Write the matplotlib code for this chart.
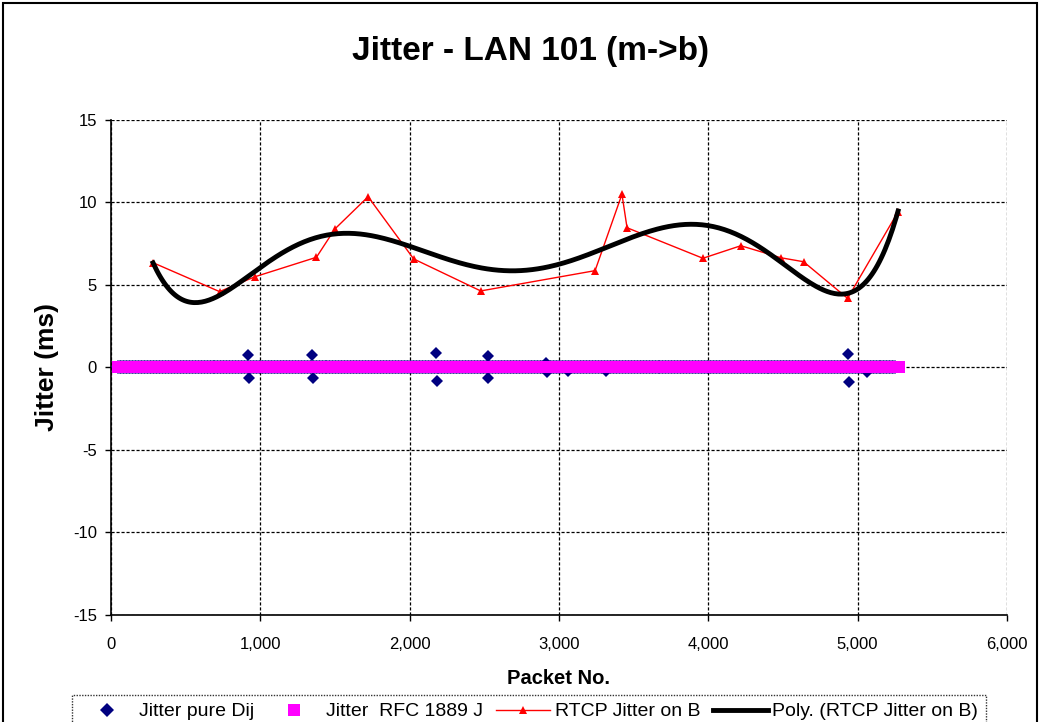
import numpy as np
import matplotlib
matplotlib.use('Agg')
import matplotlib.pyplot as plt
from matplotlib.ticker import FuncFormatter, MultipleLocator
from matplotlib.patches import Rectangle

plt.rcParams['font.family'] = ['Liberation Sans', 'DejaVu Sans']
plt.rcParams['axes.unicode_minus'] = False

# RTCP jitter reports (packet no., ms)
rtcp_packet = [282, 727, 964, 1376, 1500, 1722, 2027, 2476, 3242, 3422, 3456,
               3964, 4218, 4487, 4638, 4933, 5271]
rtcp_jitter = [6.35, 4.6, 5.5, 6.68, 8.4, 10.35, 6.58, 4.64, 5.87, 10.5, 8.47,
               6.62, 7.38, 6.65, 6.41, 4.19, 9.44]

# per-packet jitter: sits at 0 ms except a few spikes
first_packet, last_packet, packet_step = 50, 5280, 10
dij_last_packet = 5250
rfc_gap = (3245, 3300)          # missing RFC 1889 values
spike_packet = [918, 922, 1345, 1350, 2176, 2180, 2522, 2527, 2913, 2918,
                3060, 3313, 4936, 4940, 5060]
spike_dij = [0.75, -0.65, 0.75, -0.65, 0.85, -0.8, 0.7, -0.65, 0.3, -0.25,
             -0.2, -0.2, 0.8, -0.88, -0.3]

packet_no = np.arange(first_packet, last_packet + 1, packet_step)
dij_x = packet_no[packet_no <= dij_last_packet]
dij_y = np.zeros(len(dij_x))

rfc_x = packet_no[(packet_no < rfc_gap[0]) | (packet_no > rfc_gap[1])]
rfc_y = np.zeros(len(rfc_x))

# 6th order polynomial trendline of the RTCP values
coef = np.polyfit(rtcp_packet, rtcp_jitter, 6)
poly_x = np.linspace(rtcp_packet[0], rtcp_packet[-1], 400)
poly_y = np.polyval(coef, poly_x)

fig = plt.figure(figsize=(10.4, 7.22), dpi=100)
ax = fig.add_axes([0.1067, 0.1482, 0.8615, 0.6856])

ax.plot(dij_x, dij_y, 'D', color='#000080', ms=7.3, mew=0, label='Jitter pure Dij', zorder=3)
ax.plot(spike_packet, spike_dij, 'D', color='#000080', ms=5.8, mew=0, zorder=3)
ax.plot(rfc_x, rfc_y, 's', color='#FF00FF', ms=8.8, mew=0, label='Jitter  RFC 1889 J', zorder=4)
ax.plot(rtcp_packet, rtcp_jitter, '-', color='red', lw=1, marker='^', ms=5.5, mew=0,
        label='RTCP Jitter on B', zorder=5)
ax.plot(poly_x, poly_y, '-', color='black', lw=3.5, label='Poly. (RTCP Jitter on B)', zorder=6)

ax.set_xlim(0, 6000)
ax.set_ylim(-15, 15)
ax.xaxis.set_major_locator(MultipleLocator(1000))
ax.yaxis.set_major_locator(MultipleLocator(5))
ax.xaxis.set_major_formatter(FuncFormatter(lambda v, p: '{:,.0f}'.format(v)))
ax.tick_params(direction='out', length=4, width=1, labelsize=12, pad=12)
ax.tick_params(axis='y', pad=6)
ax.grid(True, color='black', linestyle=(0, (2.5, 1.5)), linewidth=0.9)
ax.set_axisbelow(True)
for s in ['top', 'right']:
    ax.spines[s].set_visible(False)
for s in ['left', 'bottom']:
    ax.spines[s].set_linewidth(1.2)

fig.text(0.51, 0.928, 'Jitter - LAN 101 (m->b)', fontsize=24, fontweight='bold',
         ha='center', va='center')
ax.set_xlabel('Packet No.', fontsize=14.5, fontweight='bold', labelpad=12)
ax.set_ylabel('Jitter (ms)', fontsize=19, fontweight='bold', labelpad=10)

leg = fig.legend(loc='upper left', bbox_to_anchor=(0.069, 0.0374), ncol=4, fontsize=14,
                 frameon=True, fancybox=False, edgecolor='black', borderpad=0.4,
                 handlelength=2.8, columnspacing=0.65, handletextpad=0.25, borderaxespad=0)
leg.get_frame().set_linewidth(1)
leg.get_frame().set_linestyle((0, (1, 1)))

fig.patches.append(Rectangle((0.003, -0.01), 0.994, 1.0055, transform=fig.transFigure,
                             fill=False, edgecolor='black', linewidth=1.5))

fig.savefig('out.png', dpi=100)
